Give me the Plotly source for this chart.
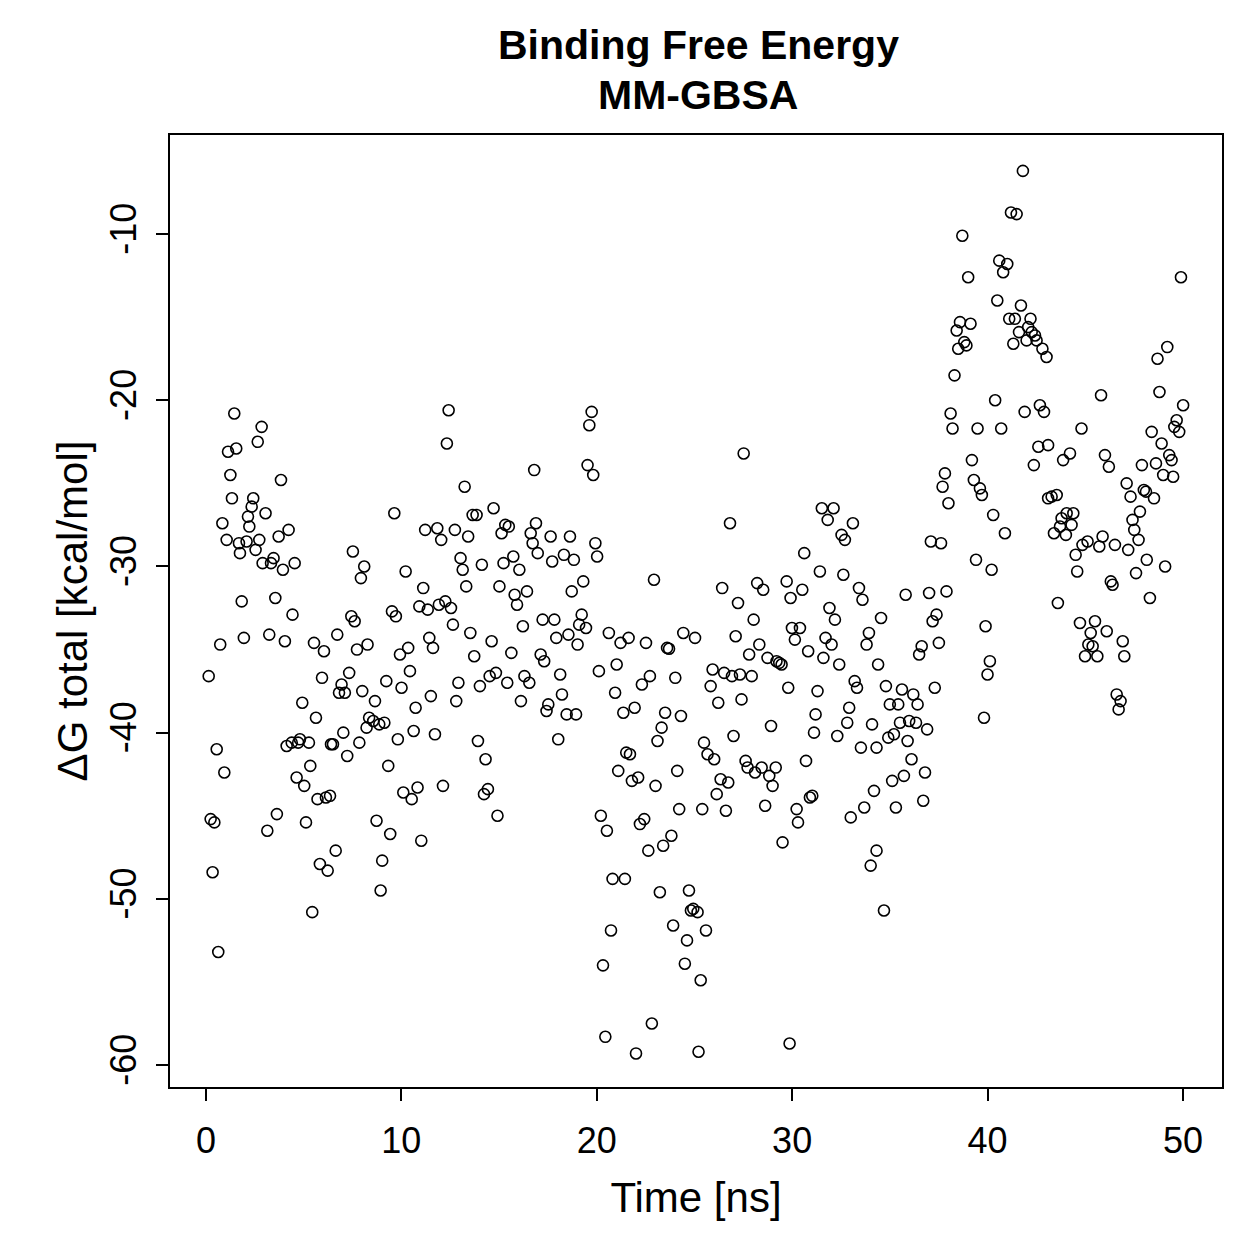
import plotly.graph_objects as go

# Time [ns] and ΔG total [kcal/mol]
time_ns = [
    1.45, 2.85, 2.65, 1.55, 1.13, 1.25, 3.84, 1.33, 2.42, 2.34, 3.05, 2.15, 0.84, 2.22, 4.23, 3.72, 1.06, 1.69,
    2.08, 2.73, 2.54, 1.74, 3.46, 2.90, 3.33, 4.54, 3.94, 7.52, 8.10, 7.93, 1.83, 3.55, 4.43, 7.44, 7.61, 0.73,
    1.94, 3.24, 4.04, 5.53, 6.04, 6.72, 7.73, 8.27, 0.14, 5.94, 7.33, 6.94, 6.81, 7.11, 8.00, 4.93, 5.63, 8.35,
    7.03, 8.22, 7.85, 0.55, 4.13, 4.39, 4.81, 4.72, 5.27, 6.40, 6.50, 7.23, 0.94, 5.34, 4.64, 5.03, 5.71, 6.14,
    6.35, 0.24, 0.43, 3.63, 3.14, 5.12, 6.64, 5.83, 6.23, 0.34, 5.44, 0.63,
    12.42, 12.33, 16.80, 13.24, 9.64, 14.72, 13.65, 13.85, 11.22, 11.84, 12.74, 12.04, 13.42, 15.32, 15.50, 15.13,
    16.89, 16.62, 16.72, 16.98, 13.03, 13.14, 14.12, 15.23, 15.73, 16.04, 10.22, 11.12, 13.32, 15.02, 15.80, 16.43,
    15.92, 10.92, 11.35, 11.92, 12.25, 12.54, 9.52, 9.72, 12.64, 13.53, 16.22, 11.43, 11.62, 10.35, 9.93, 14.62,
    15.63, 13.73, 10.44, 9.23, 10.01, 8.65, 12.92, 14.02, 14.52, 14.84, 15.42, 16.30, 16.55, 11.51, 10.73, 12.81,
    16.12,
    8.56, 8.87, 9.13, 9.82, 10.63, 11.72, 13.92, 14.31, 9.33, 10.10, 10.83, 10.53, 12.13, 14.43, 14.23, 14.92,
    8.73, 9.43, 11.02, 9.02, 8.94,
    19.74, 19.62, 19.53, 19.82, 17.64, 18.63, 17.72, 18.32, 18.83, 19.93, 20.02, 19.31, 18.72, 22.93, 17.23, 17.83,
    19.23, 19.10, 19.45, 17.93, 18.55, 19.02, 20.62, 21.22, 21.63, 22.52, 23.60, 23.70, 24.43, 25.03, 17.13, 17.31,
    18.13, 20.11, 21.02, 22.72, 22.31, 24.02, 18.22, 17.52, 17.43, 18.46, 18.94, 20.94, 21.36, 21.94, 23.50, 24.31,
    18.03, 23.32, 23.11, 25.49, 25.67, 21.51, 21.70, 21.10, 21.80, 22.12, 23.01, 24.12, 20.21, 20.52, 22.21, 22.43,
    24.22, 25.40, 23.82, 23.40, 22.64, 20.81, 21.44, 23.23, 24.72, 24.82, 24.94, 25.16, 20.73, 23.91, 24.62, 25.59,
    20.32, 24.51, 25.32, 22.82, 20.44, 22.01, 25.21,
    27.52, 26.82, 31.52, 32.12, 31.82, 33.11, 32.53, 32.70, 30.62, 31.42, 32.62, 33.42, 33.60, 26.42, 28.21, 28.52,
    29.72, 30.52, 29.92, 27.23, 28.03, 31.91, 32.19, 34.55, 27.11, 28.32, 27.80, 29.99, 30.40, 30.14, 31.71, 32.02,
    33.93, 33.81, 30.82, 31.60, 32.41, 34.40, 28.74, 29.20, 29.34, 29.46, 25.93, 26.52, 26.92, 27.33, 27.93, 25.83,
    26.22, 27.41, 29.80, 31.30, 33.20, 33.32, 32.92, 31.20,
    28.92, 32.82, 34.09, 31.12, 32.31, 33.52, 34.32, 27.00, 26.01, 27.62, 27.72, 28.10, 28.44, 28.83, 29.16, 29.00,
    30.71, 26.34, 26.73, 26.14, 26.61, 28.62, 30.23, 30.30, 30.91, 31.03, 29.51, 33.00, 33.69, 34.19, 34.32, 34.02,
    29.87, 34.70,
    40.39, 38.11, 38.21, 39.49, 40.70, 41.90, 42.68, 42.89, 42.60, 43.10, 42.37, 39.20, 37.82, 37.70, 39.30, 39.61,
    39.71, 38.00, 40.29, 40.89, 37.10, 37.62, 39.41, 40.21, 35.81, 37.01, 37.90, 37.39, 37.19, 39.90, 37.51, 36.63,
    36.50, 40.12, 40.00, 34.80, 35.62, 36.20, 35.00, 35.43, 36.42, 37.30, 39.82,
    35.52, 35.99, 36.34, 36.91, 34.92, 35.21, 35.91, 36.11, 36.80, 35.72, 35.12, 35.31, 36.71,
    41.81, 41.20, 41.49, 38.71, 40.60, 41.01, 40.80, 39.01, 49.90, 40.50, 41.71, 41.11, 41.40, 42.20, 38.59, 39.13,
    38.42, 41.61, 42.08, 42.26, 42.43, 38.81, 38.92, 38.50, 41.32, 42.00, 42.51, 42.81, 43.02, 49.20, 48.70, 38.31,
    45.81, 48.80, 50.01,
    44.81, 49.68, 49.56, 49.81, 48.40, 48.91, 44.22, 43.87, 46.01, 46.21, 49.30, 49.42, 47.90, 48.62, 48.99, 49.50,
    47.12, 47.32, 48.00, 48.11, 48.52, 43.10, 43.28, 43.54, 47.80, 47.42, 47.51, 47.73, 47.20, 44.05, 44.39, 43.79,
    44.30, 43.71, 43.40, 44.01, 45.89, 45.72, 46.52, 45.12, 44.86, 44.51, 44.59, 48.15, 49.09, 47.60, 46.31, 46.40,
    48.31, 43.60, 44.73, 45.50, 45.28, 46.10, 46.92, 45.16, 45.38, 44.99, 45.62, 47.00, 46.61, 46.81, 46.71,
]

dg_total = [
    -20.8, -21.6, -22.5, -22.9, -23.1, -24.5, -24.8, -25.9, -25.9, -26.4, -26.8, -27.0, -27.4, -27.6, -27.8, -28.2, -28.4, -28.6,
    -28.5, -28.4, -29.0, -29.2, -29.5, -29.8, -29.8, -29.8, -30.2, -29.1, -30.0, -30.7, -32.1, -31.9, -32.9, -33.0, -33.3, -34.7,
    -34.3, -34.1, -34.5, -34.6, -35.1, -34.1, -35.0, -34.7, -36.6, -36.7, -36.4, -37.1, -37.6, -37.6, -37.5, -38.2, -39.1, -39.1,
    -40.0, -39.7, -40.6, -41.0, -40.8, -40.6, -40.4, -40.6, -40.6, -40.7, -40.7, -41.4, -42.4, -42.0, -42.7, -43.2, -44.0, -43.9,
    -43.8, -45.2, -45.4, -44.9, -45.9, -45.4, -47.1, -47.9, -48.3, -48.4, -50.8, -53.2,
    -20.6, -22.6, -24.2, -25.2, -26.8, -26.5, -26.9, -26.9, -27.8, -27.7, -27.8, -28.4, -28.2, -27.5, -27.6, -28.0,
    -27.4, -28.0, -28.6, -29.2, -29.5, -30.2, -29.9, -29.8, -29.4, -30.2, -30.3, -31.3, -31.2, -31.2, -31.7, -31.5,
    -32.3, -32.4, -32.6, -32.3, -32.1, -32.5, -32.7, -33.0, -33.5, -34.0, -33.6, -34.3, -34.9, -34.9, -35.3, -34.5,
    -35.2, -35.4, -36.3, -36.9, -37.3, -38.1, -37.0, -37.2, -36.6, -36.4, -37.0, -36.6, -37.0, -37.8, -38.5, -38.1,
    -38.1,
    -39.3, -39.5, -39.4, -40.4, -39.9, -40.1, -40.5, -41.6, -42.0, -43.6, -43.3, -44.0, -43.2, -43.4, -43.7, -45.0,
    -45.3, -46.1, -46.5, -47.7, -49.5,
    -20.7, -21.5, -23.9, -24.5, -28.2, -28.2, -29.7, -29.3, -29.6, -28.6, -29.4, -30.9, -31.5, -30.8, -33.2, -33.2,
    -32.9, -33.5, -33.7, -34.3, -34.1, -34.7, -34.0, -34.6, -34.3, -34.6, -34.9, -34.95, -34.0, -34.3, -35.3, -35.7,
    -36.5, -36.3, -35.9, -36.6, -37.1, -36.7, -37.7, -38.3, -38.7, -38.9, -38.9, -37.6, -38.8, -38.5, -38.8, -39.0,
    -40.4, -39.7, -40.5, -40.6, -41.3, -41.2, -41.3, -42.3, -42.9, -42.7, -43.2, -42.3, -45.0, -45.9, -45.5, -45.2,
    -44.6, -44.6, -46.2, -46.8, -47.1, -48.8, -48.8, -49.6, -49.5, -50.7, -50.6, -50.8, -51.9, -51.6, -52.5, -51.9,
    -54.0, -53.9, -54.9, -57.5, -58.3, -59.3, -59.2,
    -23.2, -27.4, -26.5, -26.5, -27.2, -27.4, -28.1, -28.4, -29.2, -30.3, -30.5, -31.3, -32.0, -31.3, -31.0, -31.4,
    -30.9, -31.4, -31.9, -32.2, -33.2, -32.5, -33.2, -33.1, -34.2, -34.7, -35.3, -33.7, -33.7, -34.4, -34.3, -34.7,
    -34.0, -34.7, -35.1, -35.5, -35.9, -35.9, -35.5, -35.7, -35.8, -35.9, -36.2, -36.4, -36.6, -36.5, -36.6, -37.2,
    -38.2, -38.0, -37.3, -37.5, -36.9, -37.3, -38.5, -38.9,
    -39.6, -39.4, -39.5, -40.0, -40.2, -40.9, -40.9, -40.2, -41.6, -41.7, -42.1, -42.4, -42.1, -42.6, -42.1, -43.2,
    -41.7, -42.8, -43.0, -43.7, -44.7, -44.4, -44.6, -45.4, -43.9, -43.8, -46.6, -45.1, -44.5, -43.5, -47.1, -48.0,
    -58.7, -50.7,
    -20.0, -20.8, -21.7, -21.7, -21.7, -20.7, -20.3, -20.7, -22.8, -22.7, -23.9, -23.6, -24.4, -25.2, -24.8, -25.3,
    -25.7, -26.2, -26.9, -28.0, -28.5, -28.6, -29.6, -30.2, -31.7, -31.6, -31.5, -32.9, -33.3, -33.6, -34.6, -34.8,
    -35.3, -35.7, -36.5, -37.2, -37.4, -37.7, -38.3, -38.3, -38.3, -37.3, -39.1,
    -39.4, -39.3, -39.4, -39.8, -40.3, -40.1, -40.5, -41.6, -42.4, -42.6, -42.9, -44.5, -44.1,
    -6.2, -8.7, -8.8, -10.1, -11.6, -11.8, -12.3, -12.6, -12.6, -14.0, -14.3, -15.1, -15.1, -15.1, -15.3, -15.4,
    -15.8, -15.9, -15.6, -15.9, -16.1, -16.5, -16.7, -16.9, -16.6, -16.4, -16.4, -16.9, -17.4, -16.8, -17.5, -18.5,
    -19.7, -19.5, -20.3,
    -21.7, -21.2, -21.6, -21.9, -21.9, -22.6, -23.2, -23.6, -23.3, -24.0, -23.3, -23.6, -23.9, -23.8, -24.5, -24.6,
    -25.0, -25.8, -25.4, -25.5, -25.9, -25.9, -25.8, -25.7, -26.7, -27.2, -27.8, -28.4, -29.0, -26.8, -26.8, -27.1,
    -27.5, -27.6, -28.0, -28.1, -28.2, -28.8, -28.7, -28.5, -28.7, -29.3, -30.3, -29.6, -30.0, -30.4, -30.9, -31.1,
    -31.9, -32.2, -33.4, -33.3, -34.0, -33.9, -34.5, -34.7, -34.8, -35.4, -35.4, -35.4, -37.7, -38.1, -38.6,
]

x_ticks = [0, 10, 20, 30, 40, 50]
y_ticks = [-60, -50, -40, -30, -20, -10]

title_lines = ["Binding Free Energy", "MM-GBSA"]
x_title = "Time [ns]"
y_title = "ΔG total [kcal/mol]"

FONT = "Liberation Sans, Arial, Helvetica, sans-serif"

fig = go.Figure()
fig.add_trace(go.Scatter(
    x=time_ns, y=dg_total, mode="markers",
    marker=dict(symbol="circle-open", size=11, color="black", line=dict(width=1.6, color="black")),
    showlegend=False, hoverinfo="x+y",
))

# plot area: left 170, right 1222, top 135, bottom 1087 (pixels)
plot_h = 1087 - 135
plot_w = 1222 - 170
title_centers = [45, 95]
for line, cy in zip(title_lines, title_centers):
    fig.add_annotation(
        text=f"<b>{line}</b>", xref="paper", yref="paper",
        x=(698 - 170) / plot_w, y=(1087 - cy) / plot_h,
        xanchor="center", yanchor="middle", showarrow=False,
        font=dict(size=41, family=FONT, color="black"),
    )

fig.update_layout(
    width=1259, height=1259,
    margin=dict(l=170, r=37, t=135, b=172),
    paper_bgcolor="white", plot_bgcolor="white",
    font=dict(family=FONT, color="black"),
)

fig.update_xaxes(
    range=[-1.84, 52.0], tickvals=x_ticks, ticktext=[str(v) for v in x_ticks],
    showgrid=False, zeroline=False,
    showline=True, linecolor="black", linewidth=2, mirror=True,
    ticks="outside", ticklen=12, tickwidth=2, tickcolor="black",
    tickfont=dict(size=36, family=FONT, color="black"), ticklabelstandoff=9,
    title=dict(text=x_title, font=dict(size=42, family=FONT, color="black"), standoff=22),
    automargin=False,
)
fig.update_yaxes(
    range=[-61.32, -4.04], tickvals=y_ticks, ticktext=[str(v) for v in y_ticks],
    showgrid=False, zeroline=False,
    showline=True, linecolor="black", linewidth=2, mirror=True,
    ticks="outside", ticklen=12, tickwidth=2, tickcolor="black",
    tickangle=-90,
    tickfont=dict(size=36, family=FONT, color="black"), ticklabelstandoff=6,
    title=dict(text=y_title, font=dict(size=42, family=FONT, color="black"), standoff=2),
    automargin=False,
)

fig.write_html("out.html")
